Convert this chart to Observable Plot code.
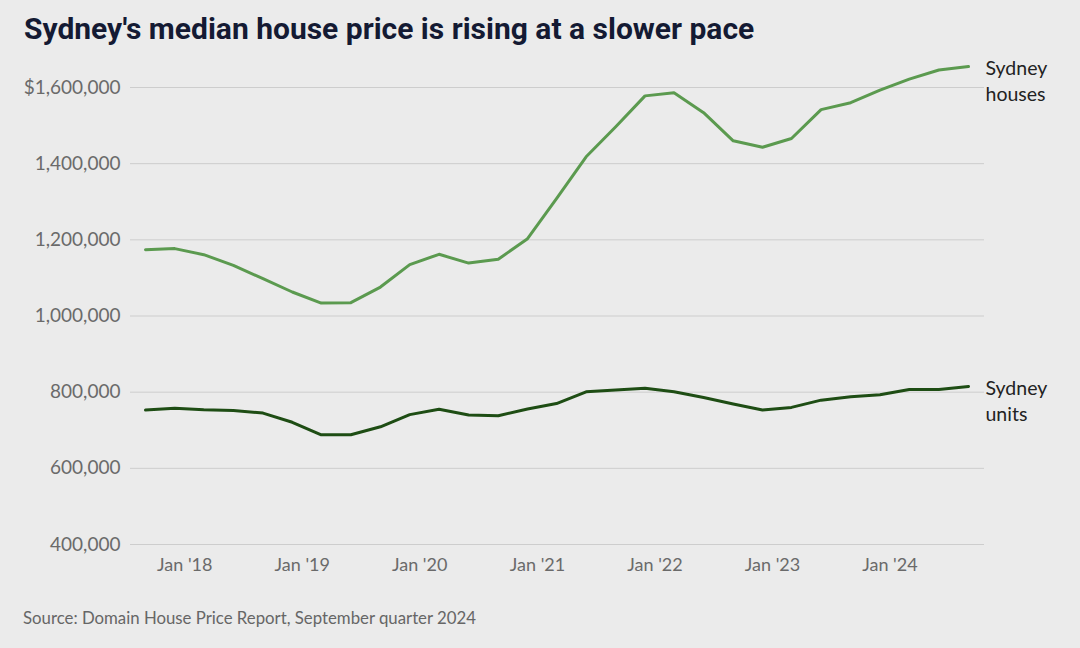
<!DOCTYPE html>
<html>
<head>
<meta charset="utf-8">
<script src="https://cdn.jsdelivr.net/npm/d3@7"></script>
<script src="https://cdn.jsdelivr.net/npm/@observablehq/plot@0.6"></script>
<style>
  html, body { margin: 0; padding: 0; background: #ebebeb; width: 1080px; height: 648px; overflow: hidden; }
  #title { font-family: "Liberation Sans Narrow", "Roboto", sans-serif; font-weight: bold; font-size: 30px; color: #141a33; padding: 13px 0 0 24px; height: 37px; line-height: 32px; white-space: nowrap; }
  #chart { height: 550px; }
  #source { font-family: Lato, sans-serif; font-size: 16.8px; color: #666; padding: 0 0 0 23px; margin-top: 7px; }
</style>
</head>
<body>
<div id="title">Sydney's median house price is rising at a slower pace</div>
<div id="chart"></div>
<div id="source">Source: Domain House Price Report, September quarter 2024</div>
<script>
const quarters = [
  "2017-09-01","2017-12-01","2018-03-01","2018-06-01","2018-09-01","2018-12-01",
  "2019-03-01","2019-06-01","2019-09-01","2019-12-01","2020-03-01","2020-06-01",
  "2020-09-01","2020-12-01","2021-03-01","2021-06-01","2021-09-01","2021-12-01",
  "2022-03-01","2022-06-01","2022-09-01","2022-12-01","2023-03-01","2023-06-01",
  "2023-09-01","2023-12-01","2024-03-01","2024-06-01","2024-09-01"
];
const housesValues = [
  1174000, 1177000, 1161000, 1133000, 1098000, 1063000,
  1034000, 1035000, 1076000, 1135000, 1162000, 1139000,
  1149000, 1203000, 1308000, 1418000, 1497000, 1578000,
  1586000, 1534000, 1460000, 1443000, 1466000, 1542000,
  1560000, 1593000, 1622000, 1646000, 1655000
];
const unitsValues = [
  753000, 758000, 754000, 752000, 745000, 721000,
  688000, 688000, 709000, 741000, 755000, 740000,
  738000, 756000, 770000, 801000, 806000, 810000,
  801000, 786000, 769000, 753000, 760000, 779000,
  788000, 793000, 807000, 807000, 815000
];
const seriesNames = ["Sydney\nhouses", "Sydney\nunits"];
const seriesColors = ["#5b9a4f", "#1e4d14"];
const yTicks = [400000, 600000, 800000, 1000000, 1200000, 1400000, 1600000];
const xTicks = ["2018-01-01","2019-01-01","2020-01-01","2021-01-01","2022-01-01","2023-01-01","2024-01-01"];

const parse = d3.utcParse("%Y-%m-%d");
const data = [];
quarters.forEach((q, i) => {
  data.push({date: parse(q), value: housesValues[i], series: seriesNames[0]});
  data.push({date: parse(q), value: unitsValues[i], series: seriesNames[1]});
});
const lastPoints = seriesNames.map((s, i) => ({
  date: parse(quarters[quarters.length - 1]),
  value: (i === 0 ? housesValues : unitsValues)[quarters.length - 1],
  series: s
}));

const chart = Plot.plot({
  width: 1080,
  height: 550,
  marginLeft: 130,
  marginRight: 96,
  marginTop: 37,
  marginBottom: 56,
  style: {background: "#ebebeb", fontFamily: "Lato, sans-serif", fontSize: "18px", color: "#6a6a6a", overflow: "visible"},
  x: {type: "utc", domain: [parse(quarters[0]), parse(quarters[quarters.length - 1])], insetLeft: 15, insetRight: 16},
  y: {domain: [400000, 1600000]},
  color: {domain: seriesNames, range: seriesColors},
  marks: [
    Plot.gridY(yTicks, {stroke: "#cdcdcd", strokeOpacity: 1, strokeWidth: 1}),
    Plot.axisY(yTicks, {tickSize: 0, tickPadding: 10, fontSize: 19, fill: "#6a6a6a",
      tickFormat: d => (d === 1600000 ? "$" : "") + d3.format(",")(d), label: null}),
    Plot.axisX(xTicks.map(parse), {tickSize: 0, tickPadding: 14, fontSize: 18, fill: "#6a6a6a",
      tickFormat: d => "Jan '" + d3.utcFormat("%y")(d), label: null}),
    Plot.line(data, {x: "date", y: "value", z: "series", stroke: "series", strokeWidth: 3, strokeLinejoin: "round", strokeLinecap: "round"}),
    Plot.text(lastPoints, {x: "date", y: "value", text: "series", textAnchor: "start", lineAnchor: "top", dx: 17, dy: -10, lineHeight: 1.33, fontSize: 19.5, fill: "#222"})
  ]
});
document.getElementById("chart").appendChild(chart);
</script>
</body>
</html>
